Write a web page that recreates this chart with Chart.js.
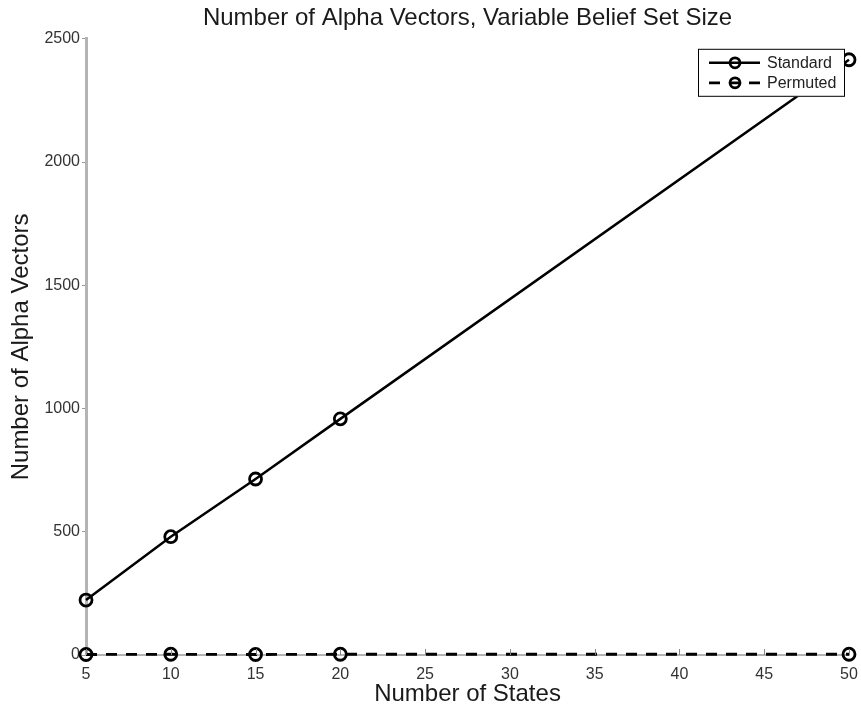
<!DOCTYPE html>
<html>
<head>
<meta charset="utf-8">
<script src="https://cdn.jsdelivr.net/npm/chart.js@4.4.1/dist/chart.umd.min.js"></script>
<style>
  html, body { margin: 0; padding: 0; background: #ffffff; }
  #wrap { width: 861px; height: 709px; }
</style>
</head>
<body>
<div id="wrap"><canvas id="c" width="861" height="709"></canvas></div>
<script>
// Number of states on the x axis
const numStates = [5, 10, 15, 20, 50];
// Alpha vector counts for each method
const standardCounts = [223, 480, 714, 958, 2415];
const permutedCounts = [2, 3, 2, 3, 3];
// Tick values
const xTickValues = [5, 10, 15, 20, 25, 30, 35, 40, 45, 50];
const yTickValues = [0, 500, 1000, 1500, 2000, 2500];

const FONT = '"Liberation Sans", Arial, Helvetica, sans-serif';
const AXIS_GRAY = '#b4b4b4';

function toPoints(xs, ys) {
  return xs.map((x, i) => ({ x: x, y: ys[i] }));
}

// Small inward tick marks along the bottom axis
const innerTicks = {
  id: 'innerTicks',
  afterDatasetsDraw(chart) {
    const { ctx, scales, chartArea } = chart;
    const xs = scales.x;
    ctx.save();
    ctx.strokeStyle = '#888888';
    ctx.lineWidth = 1;
    xTickValues.forEach(v => {
      const px = Math.round(xs.getPixelForValue(v)) + 0.5;
      ctx.beginPath();
      ctx.moveTo(px, chartArea.bottom);
      ctx.lineTo(px, chartArea.bottom - 6);
      ctx.stroke();
    });
    ctx.restore();
  }
};

// Boxed legend in the upper-right corner of the plot
const boxLegend = {
  id: 'boxLegend',
  afterDraw(chart) {
    const { ctx, chartArea } = chart;
    const right = chartArea.right - 4;
    const left = right - 147;
    const top = chartArea.top + 10;
    const h = 48;
    ctx.save();
    ctx.fillStyle = '#ffffff';
    ctx.fillRect(left, top, right - left, h);
    ctx.strokeStyle = '#000000';
    ctx.lineWidth = 1;
    ctx.strokeRect(left + 0.5, top + 0.5, right - left - 1, h - 1);
    chart.data.datasets.forEach((ds, i) => {
      const y = top + 14 + i * 20;
      ctx.strokeStyle = ds.borderColor;
      ctx.lineWidth = ds.borderWidth;
      ctx.setLineDash(ds.borderDash || []);
      ctx.beginPath();
      ctx.moveTo(left + 11, y);
      ctx.lineTo(left + 62, y);
      ctx.stroke();
      ctx.setLineDash([]);
      ctx.lineWidth = ds.pointBorderWidth;
      ctx.beginPath();
      ctx.arc(left + 37, y, 5, 0, Math.PI * 2);
      ctx.stroke();
      ctx.fillStyle = '#222222';
      ctx.font = '16px ' + FONT;
      ctx.textBaseline = 'middle';
      ctx.textAlign = 'left';
      ctx.fillText(ds.label, left + 69, y + 1);
    });
    ctx.restore();
  }
};

new Chart(document.getElementById('c'), {
  type: 'line',
  data: {
    datasets: [
      {
        label: 'Standard',
        data: toPoints(numStates, standardCounts),
        borderColor: '#000000',
        borderWidth: 2.5,
        pointRadius: 6,
        pointBorderWidth: 2.8,
        pointBorderColor: '#000000',
        pointBackgroundColor: 'rgba(0,0,0,0)',
        fill: false,
        tension: 0,
        clip: false
      },
      {
        label: 'Permuted',
        data: toPoints(numStates, permutedCounts),
        borderColor: '#000000',
        borderWidth: 2.8,
        borderDash: [11, 9],
        pointRadius: 6,
        pointBorderWidth: 2.8,
        pointBorderColor: '#000000',
        pointBackgroundColor: 'rgba(0,0,0,0)',
        fill: false,
        tension: 0,
        clip: false
      }
    ]
  },
  options: {
    responsive: false,
    animation: false,
    devicePixelRatio: 1,
    layout: { padding: { left: 0, right: 12, top: 0, bottom: 0 } },
    plugins: {
      legend: { display: false },
      tooltip: { enabled: false },
      title: {
        display: true,
        text: 'Number of Alpha Vectors, Variable Belief Set Size',
        color: '#1a1a1a',
        fullSize: false,
        font: { family: FONT, size: 24, weight: 'normal' },
        padding: { top: 4, bottom: 6 }
      }
    },
    scales: {
      x: {
        type: 'linear',
        min: 5,
        max: 50,
        afterBuildTicks: s => { s.ticks = xTickValues.map(v => ({ value: v })); },
        afterFit: s => { s.height = 54; s.paddingLeft = 0; s.paddingRight = 0; },
        grid: { display: true, drawOnChartArea: false, drawTicks: false },
        border: { display: true, color: AXIS_GRAY, width: 2 },
        ticks: {
          color: '#333333',
          padding: 10,
          maxRotation: 0,
          autoSkip: false,
          callback: v => String(v),
          font: { family: FONT, size: 16 }
        },
        title: {
          display: true,
          text: 'Number of States',
          color: '#1a1a1a',
          font: { family: FONT, size: 24, weight: 'normal' },
          padding: { top: 0, bottom: 0 }
        }
      },
      y: {
        type: 'linear',
        min: 0,
        max: 2500,
        afterBuildTicks: s => { s.ticks = yTickValues.map(v => ({ value: v })); },
        afterFit: s => { s.width = 86; },
        grid: { display: true, drawOnChartArea: false, drawTicks: true, tickLength: 4, color: '#999999' },
        border: { display: true, color: AXIS_GRAY, width: 3 },
        ticks: {
          color: '#333333',
          padding: 2,
          autoSkip: false,
          callback: v => String(v),
          font: { family: FONT, size: 16 }
        },
        title: {
          display: true,
          text: 'Number of Alpha Vectors',
          color: '#1a1a1a',
          font: { family: FONT, size: 24, weight: 'normal' },
          padding: { top: 7, bottom: 0 }
        }
      }
    }
  },
  plugins: [innerTicks, boxLegend]
});
</script>
</body>
</html>
